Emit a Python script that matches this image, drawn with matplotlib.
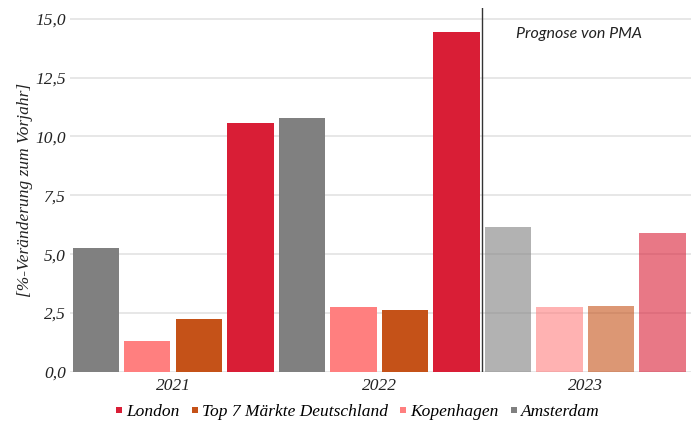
import matplotlib
matplotlib.use("Agg")
import matplotlib.pyplot as plt
from matplotlib.lines import Line2D

years = ["2021", "2022", "2023"]
series = ["Amsterdam", "Kopenhagen", "Top 7 Märkte Deutschland", "London"]
colors = ["#808080", "#FF7F7F", "#C55218", "#D91E36"]
values = {
    "Amsterdam": [5.25, 10.8, 6.15],
    "Kopenhagen": [1.3, 2.75, 2.75],
    "Top 7 Märkte Deutschland": [2.25, 2.65, 2.8],
    "London": [10.55, 14.42, 5.9],
}
yticks = [0.0, 2.5, 5.0, 7.5, 10.0, 12.5, 15.0]
forecast_year = "2023"

serif = {"family": "Liberation Serif", "style": "italic"}

fig = plt.figure(figsize=(6.94, 4.25), dpi=100)
ax = fig.add_axes([70 / 694, 1 - 372 / 425, 621 / 694, 364 / 425])

n = len(series)
for gi, year in enumerate(years):
    alpha = 0.6 if year == forecast_year else 1.0
    for si, name in enumerate(series):
        x = gi * n + si
        ax.bar(x, values[name][gi], width=0.9, color=colors[si], alpha=alpha,
               linewidth=0, zorder=2)

ax.set_xlim(-0.5, len(years) * n - 0.45)
ax.set_ylim(0, 15.45)
ax.set_yticks(yticks)
ax.set_yticklabels([f"{v:.1f}".replace(".", ",") for v in yticks],
                   fontdict=dict(size=12.5, **serif), color="#222222")
ax.set_xticks([gi * n + (n - 1) / 2 for gi in range(len(years))])
ax.set_xticklabels(years, fontdict=dict(size=12.5, **serif), color="#222222")
ax.tick_params(axis="both", length=0, pad=4)
ax.tick_params(axis="y", pad=3)
ax.grid(axis="y", color="#E3E3E3", linewidth=1.2, zorder=0)
for s in ax.spines.values():
    s.set_visible(False)

ax.set_ylabel("[%-Veränderung zum Vorjahr]", fontdict=dict(size=12.5, **serif),
              color="#222222", labelpad=1.5)

# divider between reported and forecast years
split = years.index(forecast_year) * n - 0.5
ax.axvline(split, color="#333333", linewidth=1, zorder=3)
ax.text(split + 0.65, 14.35, "Prognose von PMA", family="Lato", style="italic",
        size=11.5, color="#222222", ha="left", va="center")

handles = [Line2D([], [], marker="s", linestyle="none", markersize=4,
                  markerfacecolor=colors[i], markeredgewidth=0)
           for i in reversed(range(n))]
labels = list(reversed(series))
fig.legend(handles, labels, loc="center", bbox_to_anchor=(356 / 694, 1 - 412 / 425),
           ncol=4, frameon=False, handletextpad=0.0, columnspacing=0.5,
           handlelength=0.8, prop=dict(size=12.5, **serif))

fig.savefig("out.png", dpi=100)
